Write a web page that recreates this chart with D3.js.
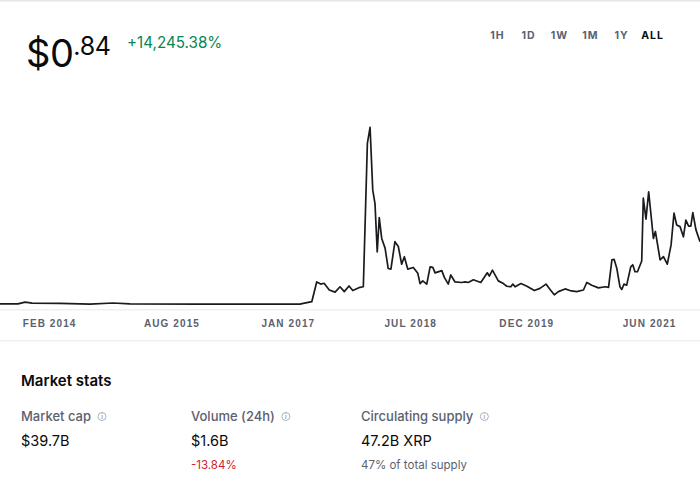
<!DOCTYPE html>
<html>
<head>
<meta charset="utf-8">
<script src="https://cdn.jsdelivr.net/npm/d3@7"></script>
<style>
  body { margin: 0; background: #fff; }
  svg { display: block; font-family: Inter, "Noto Sans", sans-serif; }
  .axis text { fill: #5b616e; font-size: 10px; font-weight: 700; letter-spacing: 1.1px; }
</style>
</head>
<body>
<svg id="chart" width="700" height="493"></svg>
<script>
// XRP price history (USD)
const priceDates = [
  "2013-06-27", "2013-09-15", "2013-10-17", "2013-11-17", "2014-03-22", "2014-08-02",
  "2014-11-13", "2015-01-28", "2015-12-06", "2016-07-16", "2017-02-24", "2017-03-11",
  "2017-04-18", "2017-05-10", "2017-05-28", "2017-06-12", "2017-07-05", "2017-07-31",
  "2017-08-22", "2017-09-10", "2017-10-01", "2017-10-18", "2017-11-19", "2017-12-04",
  "2017-12-22", "2018-01-03", "2018-01-15", "2018-01-25", "2018-02-04", "2018-02-13",
  "2018-02-24", "2018-03-11", "2018-03-25", "2018-04-06", "2018-04-24", "2018-05-09",
  "2018-05-24", "2018-06-05", "2018-06-20", "2018-07-15", "2018-08-04", "2018-08-14",
  "2018-08-26", "2018-09-13", "2018-09-28", "2018-10-10", "2018-10-20", "2018-11-19",
  "2018-12-01", "2018-12-18", "2018-12-29", "2019-01-17", "2019-02-16", "2019-03-03",
  "2019-03-17", "2019-04-09", "2019-05-12", "2019-06-10", "2019-06-19", "2019-07-03",
  "2019-07-29", "2019-08-21", "2019-09-05", "2019-09-23", "2019-10-02", "2019-10-12",
  "2019-11-07", "2019-12-04", "2020-01-06", "2020-01-31", "2020-02-27", "2020-03-16",
  "2020-04-04", "2020-04-22", "2020-05-22", "2020-06-13", "2020-07-13", "2020-08-12",
  "2020-08-27", "2020-09-18", "2020-10-18", "2020-11-17", "2020-12-02", "2020-12-17",
  "2020-12-27", "2021-01-08", "2021-01-22", "2021-01-30", "2021-02-09", "2021-02-21",
  "2021-03-11", "2021-03-20", "2021-03-30", "2021-04-10", "2021-04-29", "2021-05-06",
  "2021-05-18", "2021-05-30", "2021-06-20", "2021-06-29", "2021-07-20", "2021-08-04",
  "2021-08-21", "2021-09-07", "2021-09-20", "2021-10-02", "2021-10-17", "2021-11-01",
  "2021-11-12", "2021-11-24", "2021-12-04", "2021-12-13", "2021-12-27", "2022-01-14",
];
const priceValues = [
  0.01, 0.012, 0.045, 0.025, 0.02, 0.008,
  0.028, 0.012, 0.006, 0.007, 0.006, 0.022,
  0.052, 0.42, 0.38, 0.395, 0.27, 0.23,
  0.33, 0.24, 0.345, 0.26, 0.32, 0.33,
  3.0, 3.3, 2.13, 1.88, 0.98, 1.62,
  1.23, 1.05, 0.67, 0.66, 1.17, 1.08,
  0.75, 0.89, 0.66, 0.69, 0.58, 0.39,
  0.44, 0.38, 0.7, 0.69, 0.59, 0.63,
  0.5, 0.38, 0.55, 0.42, 0.41, 0.42,
  0.41, 0.46, 0.41, 0.59, 0.53, 0.64,
  0.44, 0.39, 0.34, 0.33, 0.38, 0.33,
  0.39, 0.34, 0.26, 0.3, 0.38, 0.28,
  0.18, 0.24, 0.29, 0.26, 0.24, 0.27,
  0.41, 0.36, 0.31, 0.33, 0.32, 0.83,
  0.84, 0.67, 0.33, 0.28, 0.38, 0.36,
  0.7, 0.74, 0.61, 0.61, 0.81, 1.98,
  1.59, 2.1, 1.23, 1.36, 0.83, 0.89,
  0.75, 1.11, 1.7, 1.48, 1.45, 1.26,
  1.57, 1.46, 1.46, 1.71, 1.39, 1.17,
];
const tickDates = ["2014-02-01", "2015-08-01", "2017-01-01", "2018-07-01", "2019-12-01", "2021-06-01"];
const rangeButtons = ["1H", "1D", "1W", "1M", "1Y", "ALL"];
const statLabels = ["Market cap", "Volume (24h)", "Circulating supply"];
const statValues = ["$39.7B", "$1.6B", "47.2B XRP"];
const statNotes = ["", "-13.84%", "47% of total supply"];
const priceWhole = "$0";
const priceCents = ".84";
const priceChange = "+14,245.38%";

const parseDate = d3.timeParse("%Y-%m-%d");
const data = priceDates.map((d, i) => ({ date: parseDate(d), price: priceValues[i] }));

let svg = d3.select("#chart");
const width = 700;

// card border on top and separators
svg.append("rect").attr("x", 0).attr("y", 0).attr("width", width).attr("height", 1.5).attr("fill", "#e4e6ea");
svg.append("rect").attr("x", 0).attr("y", 309).attr("width", width).attr("height", 1.5).attr("fill", "#eef0f3");
svg.append("rect").attr("x", 0).attr("y", 340).attr("width", width).attr("height", 1.5).attr("fill", "#eef0f3");

// header price
let head = svg.append("text").attr("x", 26).attr("y", 67).attr("fill", "#0a0b0d");
head.append("tspan").attr("font-size", 38).attr("letter-spacing", -0.5).text(priceWhole);
head.append("tspan").attr("font-size", 25).attr("dy", -12).attr("letter-spacing", -0.3).text(priceCents);

svg.append("text")
  .attr("x", 127)
  .attr("y", 48)
  .attr("font-size", 15.2)
  .attr("fill", "#098551")
  .text(priceChange);

// range selector
let bx = d3.scalePoint().domain(rangeButtons).range([497.5, 652.5]);
svg.append("g")
  .selectAll("text")
  .data(rangeButtons)
  .enter()
  .append("text")
  .attr("x", (d) => bx(d))
  .attr("y", 39)
  .attr("text-anchor", "middle")
  .attr("font-size", 10.5)
  .attr("font-weight", 700)
  .attr("letter-spacing", 1)
  .attr("fill", (d) => (d === "ALL" ? "#0a0b0d" : "#5b616e"))
  .text((d) => d);

// price line
let x = d3.scaleTime()
  .domain([parseDate("2013-06-27"), parseDate("2022-01-14")])
  .range([0, width]);
let y = d3.scaleLinear().domain([0, 3.3]).range([304.5, 127.3]);

let line = d3.line()
  .x((d) => x(d.date))
  .y((d) => y(d.price));

svg.append("path")
  .datum(data)
  .attr("fill", "none")
  .attr("stroke", "#1a1b1f")
  .attr("stroke-width", 1.7)
  .attr("stroke-linejoin", "round")
  .attr("d", line);

let formatTick = d3.timeFormat("%b %Y");
svg.append("g")
  .attr("class", "axis")
  .attr("transform", "translate(0,320)")
  .call(
    d3.axisBottom(x)
      .tickValues(tickDates.map(parseDate))
      .tickFormat((d) => formatTick(d).toUpperCase())
      .tickSize(0)
      .tickPadding(0)
  )
  .call((g) => g.select(".domain").remove())
  .selectAll("text")
  .attr("dy", "0.71em")
  .attr("font-family", null);

// market stats
svg.append("text")
  .attr("x", 21)
  .attr("y", 386)
  .attr("font-size", 15)
  .attr("font-weight", 600)
  .attr("fill", "#0a0b0d")
  .text("Market stats");

let sx = (i) => 21 + i * 170;
let cols = svg.append("g")
  .selectAll("g")
  .data(statLabels)
  .enter()
  .append("g")
  .attr("transform", (d, i) => "translate(" + sx(i) + ",0)");

cols.append("text")
  .attr("class", "stat-label")
  .attr("y", 421)
  .attr("font-size", 13)
  .attr("font-weight", 500)
  .attr("fill", "#5b616e")
  .text((d) => d);

cols.each(function () {
  let g = d3.select(this);
  let w = g.select(".stat-label").node().getComputedTextLength();
  g.append("circle")
    .attr("cx", w + 11)
    .attr("cy", 416.5)
    .attr("r", 4)
    .attr("fill", "none")
    .attr("stroke", "#a3a8b0")
    .attr("stroke-width", 0.9);
  g.append("text")
    .attr("x", w + 11)
    .attr("y", 419)
    .attr("text-anchor", "middle")
    .attr("font-size", 6)
    .attr("font-weight", 700)
    .attr("fill", "#a3a8b0")
    .text("i");
});

cols.append("text")
  .attr("y", 446)
  .attr("font-size", 14.5)
  .attr("fill", "#0a0b0d")
  .text((d, i) => statValues[i]);

cols.append("text")
  .attr("y", 469)
  .attr("font-size", 11.5)
  .attr("fill", (d, i) => (statNotes[i].startsWith("-") ? "#cf202f" : "#5b616e"))
  .text((d, i) => statNotes[i]);
</script>
</body>
</html>
